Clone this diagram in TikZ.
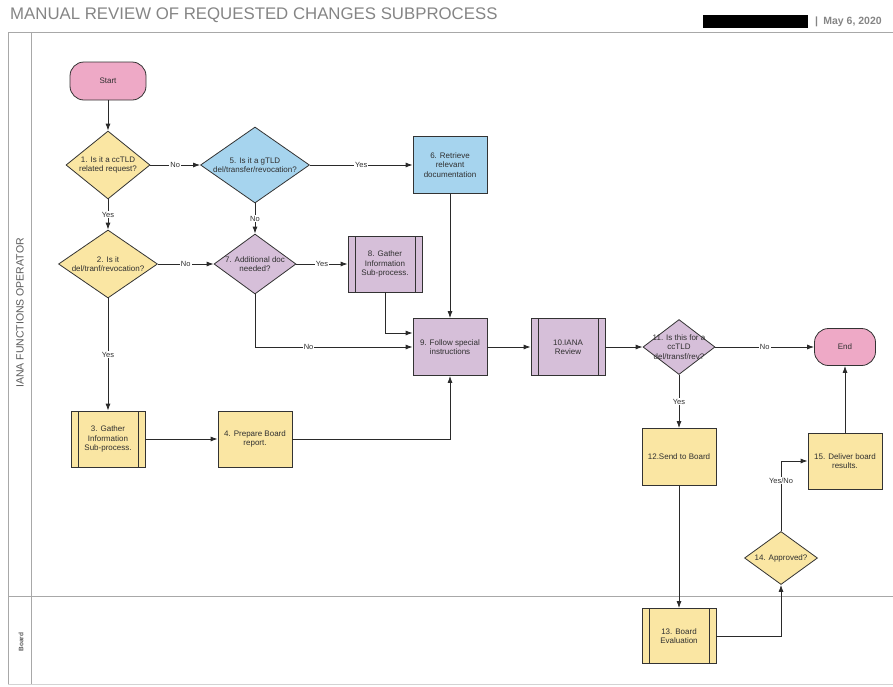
\documentclass[tikz,border=0pt]{standalone}
\usepackage{fontspec}
\setmainfont{Liberation Sans}
\usepackage{tikz}
\usetikzlibrary{arrows.meta,shapes.geometric}
\definecolor{ianaYellow}{HTML}{FAE6A3}
\definecolor{ianaBlue}{HTML}{A6D4EE}
\definecolor{ianaPurple}{HTML}{D6BFD9}
\definecolor{ianaPink}{HTML}{EEA9C6}
\definecolor{ianaLine}{HTML}{333333}
\definecolor{ianaArrow}{HTML}{2A2A2A}
\definecolor{ianaFrame}{HTML}{A8A8A8}
\definecolor{ianaTitle}{HTML}{858585}
\definecolor{ianaText}{HTML}{303030}
\tikzset{
  procbox/.style={draw=ianaLine,fill=#1,line width=.8pt,minimum width=74pt,
    minimum height=57pt,align=center,inner sep=2pt,
    font=\fontsize{8}{9.5}\selectfont,text=ianaText},
  subproc/.style={procbox=#1,path picture={
    \draw[ianaLine,line width=.8pt] ([xshift=7pt]path picture bounding box.north west)
      -- ([xshift=7pt]path picture bounding box.south west);
    \draw[ianaLine,line width=.8pt] ([xshift=-7pt]path picture bounding box.north east)
      -- ([xshift=-7pt]path picture bounding box.south east);}},
  decision/.style={diamond,draw=ianaLine,fill=#1,line width=.8pt,inner sep=0pt,
    shape aspect=1.35,align=center,font=\fontsize{8}{9.5}\selectfont,text=ianaText},
  terminal/.style={draw=ianaLine,fill=ianaPink,line width=.8pt,rounded corners=14pt,
    minimum height=38pt,align=center,font=\fontsize{8}{9.5}\selectfont,text=ianaText},
  flow/.style={->,line width=.8pt,ianaArrow},
  lbl/.style={fill=white,inner sep=1pt,font=\fontsize{7.5}{8.5}\selectfont,text=ianaText},
  frame/.style={ianaFrame,line width=.8pt}
}
\begin{document}
\begin{tikzpicture}[x=1pt,y=-1pt,>={Latex[length=7pt,width=5pt]}]
  \useasboundingbox (0,0) rectangle (893,686);
  % header
  \node[anchor=west,inner sep=0pt,text=ianaTitle,font=\fontsize{16.8}{18}\selectfont]
       (title) at (10,15) {MANUAL REVIEW OF REQUESTED CHANGES SUBPROCESS};
  \fill[black] (703,15) rectangle (808,28);
  \node[anchor=west,inner sep=0pt,text=ianaTitle,font=\fontsize{10.5}{12}\selectfont\bfseries]
       (date) at (815,22) {|\enspace May 6, 2020};

  % swimlanes
  \draw[frame] (8,32) -- (893,32);
  \draw[frame] (8,32) -- (8,684);
  \draw[frame] (31,32) -- (31,684);
  \draw[frame] (8,596) -- (893,596);
  \draw[ianaFrame!50,line width=.6pt] (8,684) -- (893,684);
  \node[rotate=90,text=black!65,font=\fontsize{10.5}{12}\selectfont] (laneA) at (20,313)
       {IANA FUNCTIONS OPERATOR};
  \node[rotate=90,text=black!65,font=\fontsize{6.5}{7}\selectfont\bfseries] (laneB) at (21,642)
       {Board};

  % nodes
  \node[terminal,minimum width=76pt] (start) at (108,81) {Start};
  \node[decision=ianaYellow,shape aspect=1.24,minimum width=84pt,minimum height=68pt]
       (d1) at (108,165) {\makebox[50pt]{1. Is it a ccTLD}\\\makebox[50pt]{related request?}};
  \node[decision=ianaBlue,shape aspect=1.43,minimum width=109pt,minimum height=76pt]
       (d5) at (255,165) {5. Is it a gTLD\\\makebox[60pt]{del/transfer/revocation?}};
  \node[procbox=ianaBlue] (b6) at (450,165) {6. Retrieve\\relevant\\documentation};
  \node[decision=ianaYellow,shape aspect=1.46,minimum width=99pt,minimum height=68pt]
       (d2) at (108,264) {2. Is it\\\makebox[56pt]{del/tranf/revocation?}};
  \node[decision=ianaPurple,shape aspect=1.37,minimum width=82pt,minimum height=60pt]
       (d7) at (255,264) {\makebox[46pt]{7. Additional doc}\\needed?};
  \node[subproc=ianaPurple,minimum height=56pt] (b8) at (385,264)
       {8. Gather\\Information\\Sub-process.};
  \node[procbox=ianaPurple] (b9) at (450,347) {9. Follow special\\instructions};
  \node[subproc=ianaPurple] (b10) at (568,347) {10.IANA\\Review};
  \node[decision=ianaPurple,shape aspect=1.31,minimum width=72pt,minimum height=55pt]
       (d11) at (679,347)
       {\makebox[34pt]{11. Is this for a}\\ccTLD\\\makebox[34pt]{del/transf/rev?}};
  \node[terminal,minimum width=61pt,minimum height=37pt] (end) at (845,347) {End};
  \node[subproc=ianaYellow,minimum height=56pt] (b3) at (108,439)
       {3. Gather\\Information\\Sub-process.};
  \node[procbox=ianaYellow,minimum height=56pt] (b4) at (255,439) {4. Prepare Board\\report.};
  \node[procbox=ianaYellow] (b12) at (679,457) {12.Send to Board};
  \node[procbox=ianaYellow,minimum height=56pt] (b15) at (845,461) {15. Deliver board\\results.};
  \node[decision=ianaYellow,shape aspect=1.38,minimum width=73pt,minimum height=53pt]
       (d14) at (781,558) {14. Approved?};
  \node[subproc=ianaYellow,minimum height=55pt] (b13) at (679,636) {13. Board\\Evaluation};

  % connectors
  \draw[flow] (start) -- (d1);
  \draw[flow] (d1) -- node[lbl]{No} (d5);
  \draw[flow] (d5) -- node[lbl]{Yes} (b6);
  \draw[flow] (d1) -- node[lbl]{Yes} (d2);
  \draw[flow] (d5) -- node[lbl]{No} (d7);
  \draw[flow] (d2) -- node[lbl]{No} (d7);
  \draw[flow] (d7) -- node[lbl]{Yes} (b8);
  \draw[flow] (d2) -- node[lbl]{Yes} (b3);
  \draw[flow] (b3) -- (b4);
  \draw[flow] (b4) -| (b9);
  \draw[flow] (b6) -- (b9);
  \draw[flow] (b8.south) |- ([yshift=14pt]b9.west);
  \draw[flow] (d7.south) |- node[lbl,pos=.67]{No} (b9.west);
  \draw[flow] (b9) -- (b10);
  \draw[flow] (b10) -- (d11);
  \draw[flow] (d11) -- node[lbl]{No} (end);
  \draw[flow] (d11) -- node[lbl]{Yes} (b12);
  \draw[flow] (b12) -- (b13);
  \draw[flow] (b13) -| (d14);
  \draw[flow] (d14) |- node[lbl,pos=.36]{Yes/No} (b15);
  \draw[flow] (b15) -- (end);
\end{tikzpicture}
\end{document}
